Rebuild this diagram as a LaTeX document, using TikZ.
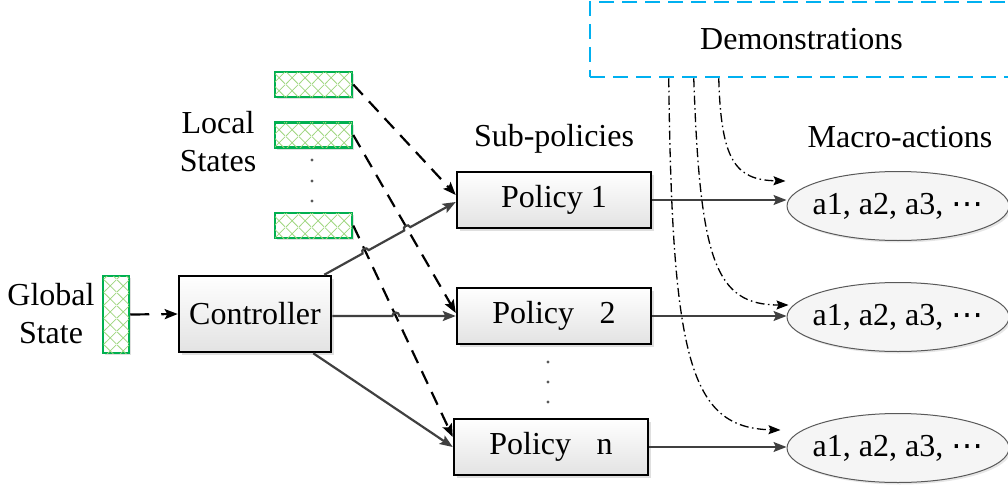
\documentclass[tikz,border=0pt]{standalone}
\usepackage{fontspec}
\setmainfont{Liberation Serif}
\newfontfamily\symfont{DejaVu Sans}
\usetikzlibrary{arrows.meta,calc,intersections,patterns.meta,shadows,shapes.geometric}

\definecolor{lsgreen}{HTML}{00B050}
\definecolor{hatchc}{HTML}{9ED67E}
\definecolor{demoblue}{HTML}{00B0F0}
\definecolor{lgray}{HTML}{404040}

\tikzdeclarepattern{
  name=xhatch, type=uncolored,
  bounding box={(0,0) and (13pt,13pt)},
  tile size={(13pt,13pt)},
  code={\draw[line width=0.8pt] (0,0)--(13pt,13pt) (0,13pt)--(13pt,0);}
}

\tikzset{
  stateblk/.style={draw=lsgreen, line width=2.5pt, fill=white,
    postaction={pattern=xhatch, pattern color=hatchc},
    minimum width=77pt, minimum height=25pt, inner sep=0pt,
    drop shadow={opacity=0.25, shadow xshift=2pt, shadow yshift=-2pt}},
  box/.style={draw=black, line width=2.5pt, top color=white, bottom color=gray!22,
    minimum width=194pt, minimum height=56pt, inner sep=0pt,
    drop shadow={opacity=0.25, shadow xshift=3pt, shadow yshift=-3pt}},
  act/.style={ellipse, draw=gray!70!black, line width=1pt, fill=gray!8,
    minimum width=222pt, minimum height=69pt, inner ysep=0pt, inner xsep=-12pt,
    drop shadow={opacity=0.2, shadow xshift=2pt, shadow yshift=-2pt}},
  demobox/.style={draw=demoblue, line width=2.5pt, dash pattern=on 15pt off 8pt,
    minimum width=423pt, minimum height=75pt, inner sep=0pt},
  lbl/.style={inner sep=0pt, align=center},
  dline/.style={line width=2.2pt, dash pattern=on 14pt off 9pt,
    -{Stealth[length=13pt,width=10pt,inset=2.5pt]}},
  gline/.style={draw=lgray, line width=2.2pt,
    -{Stealth[length=13pt,width=10pt,inset=2.5pt]}},
  thinline/.style={draw=lgray, line width=1.4pt,
    -{Stealth[length=13pt,width=10pt,inset=2.5pt]}},
  ddline/.style={line width=1.3pt, dash pattern=on 9pt off 3.5pt on 1.5pt off 3.5pt,
    -{Stealth[length=12pt,width=9pt,inset=2pt]}},
  dotc/.style={fill=gray!70!black}
}

\newcommand{\actlist}{a1, a2, a3, {\symfont ⋯}}

\begin{document}
\begin{tikzpicture}[x=1pt,y=-1pt, font=\fontsize{32}{38}\selectfont]
\useasboundingbox (0,0) rectangle (1008,487);

% demonstrations
\node[demobox] (demo) at (801.5,39.5) {Demonstrations};

% states
\node[stateblk] (ls1) at (313.5,84.5) {};
\node[stateblk] (ls2) at (313.5,135) {};
\node[stateblk] (ls3) at (313.5,225.5) {};
\fill[dotc] (312,160) circle (1.7) (312,181) circle (1.7) (312,201) circle (1.7);
\node[stateblk, minimum width=26pt, minimum height=77pt] (gs) at (116,314.5) {};

\node[lbl] (lslabel) at (218,141.5) {Local\\States};
\node[lbl] (gslabel) at (51,313.5) {Global\\State};

% controller and policies
\node[box, minimum width=152pt, minimum height=76pt] (ctrl) at (255,314) {Controller};
\node[box] (p1) at (554,200) {Policy 1};
\node[box] (p2) at (554,316) {Policy\hspace{0.8em}2};
\node[box] (pn) at (551,447) {Policy\hspace{0.8em}n};
\fill[dotc] (548,362) circle (1.7) (548,382) circle (1.7) (548,402) circle (1.7);

\node[lbl, anchor=base] (sublbl) at (554,146) {Sub-policies};
\node[lbl, anchor=base] (maclbl) at (900,147) {Macro-actions};

% macro actions
\node[act] (e1) at (898,206) {\actlist};
\node[act] (e2) at (898,317) {\actlist};
\node[act] (e3) at (898,448) {\actlist};

% global state -> controller
\draw[line width=2.2pt, dash pattern=on 19pt off 12pt,
  -{Stealth[length=13pt,width=10pt,inset=2.5pt]}] (gs.east) -- (ctrl.west);

% local states -> policies (dashed)
\coordinate (t1) at ($(p1.west)+(0,-5)$);
\coordinate (t2) at ($(p2.west)+(0,-3)$);
\coordinate (t3) at ($(pn.west)+(0,-10)$);
\draw[dline, name path=d1] (ls1.east) -- (t1);
\draw[dline, name path=d2] (ls2.east) -- (t2);
\draw[dline, name path=d3] (ls3.east) -- (t3);

% controller -> policies
\coordinate (c1) at ($(ctrl.north east)+(-8,0)$);
\coordinate (p1e) at ($(p1.west)+(0,2)$);
\coordinate (c2) at (ctrl.east |- p2.west);
\coordinate (c3) at ($(ctrl.south east)+(-19,0)$);
\path[name path=g1] (c1) -- (p1e);
\path[name path=g2] (c2) -- (p2.west);
\path[name intersections={of=g1 and d3, by=x13}];
\path[name intersections={of=g1 and d2, by=x12}];
\path[name intersections={of=g2 and d3, by=x23}];

\draw[gline] (c1) -- ($(x13)!3.5pt!(c1)$)
  .. controls ($(x13)!5.8pt!127:(p1e)$) and ($(x13)!5.8pt!53:(p1e)$) .. ($(x13)!3.5pt!(p1e)$)
  -- ($(x12)!3.5pt!(c1)$)
  .. controls ($(x12)!5.8pt!127:(p1e)$) and ($(x12)!5.8pt!53:(p1e)$) .. ($(x12)!3.5pt!(p1e)$)
  -- (p1e);
\draw[gline] (c2) -- ($(x23)!3.5pt!(c2)$)
  .. controls ($(x23)!5.8pt!127:(p2.west)$) and ($(x23)!5.8pt!53:(p2.west)$) .. ($(x23)!3.5pt!(p2.west)$)
  -- (p2.west);
\draw[gline] (c3) -- (pn.west);

% policies -> macro actions
\draw[thinline] (p1.east) -- (p1.east -| e1.west);
\draw[thinline] (p2.east) -- (p2.east -| e2.west);
\draw[thinline] (pn.east) -- (pn.east -| e3.west);

% demonstrations -> macro actions
\coordinate (dA) at ($(demo.south west)+(80,0)$);
\coordinate (dB) at ($(demo.south west)+(105,0)$);
\coordinate (dC) at ($(demo.south west)+(130,0)$);
\coordinate (eA) at ($(e3.west)+(-6,-18)$);
\coordinate (eB) at ($(e2.west)+(2,-12)$);
\coordinate (eC) at ($(e1.west)+(-1,-25)$);
\draw[ddline] (dC) .. controls (721,160) and (735,180) .. (eC);
\draw[ddline] (dB) .. controls (700,260) and (715,305) .. (eB);
\draw[ddline] (dA) .. controls (672,360) and (690,428) .. (eA);
\end{tikzpicture}
\end{document}
